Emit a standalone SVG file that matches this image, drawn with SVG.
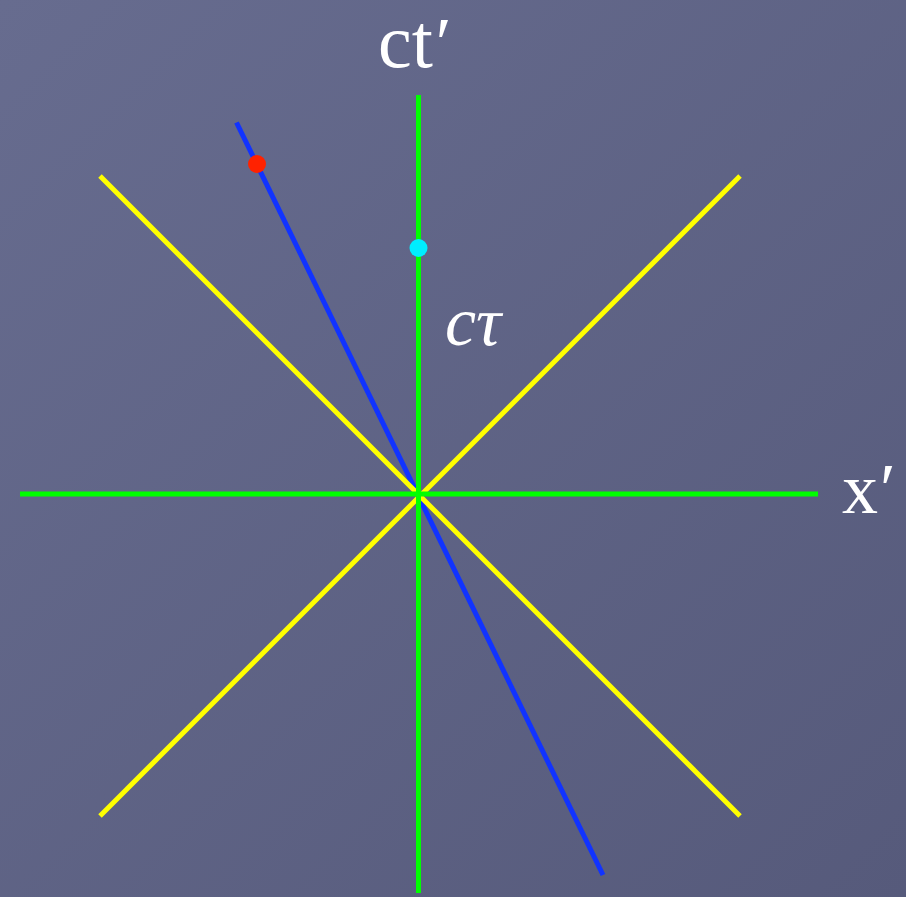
<svg xmlns="http://www.w3.org/2000/svg" width="906" height="897" viewBox="0 0 906 897">
<defs>
<linearGradient id="bg" x1="0" y1="0" x2="1" y2="1">
<stop offset="0" stop-color="#676c8f"/>
<stop offset="1" stop-color="#565a7b"/>
</linearGradient>
<style>
.ln{stroke-width:5;stroke-linecap:butt;fill:none}
.lbl{font-family:"Liberation Serif","DejaVu Serif",serif;fill:#ffffff}
</style>
</defs>
<rect width="906" height="897" fill="url(#bg)"/>
<g id="connectors">
<line id="worldline" class="ln" x1="236.5" y1="122.5" x2="603" y2="875" stroke="#1133ff"/>
<line id="lightcone1" class="ln" x1="100" y1="176" x2="740" y2="816" stroke="#ffff00"/>
<line id="lightcone2" class="ln" x1="740" y1="176" x2="100" y2="816" stroke="#ffff00"/>
<line id="axis-x" class="ln" x1="20" y1="494" x2="818" y2="494" stroke="#00ff00"/>
<line id="axis-ct" class="ln" x1="418.5" y1="95" x2="418.5" y2="893" stroke="#00ff00"/>
</g>
<g id="event-red"><circle cx="257" cy="164" r="9" fill="#ff2200"/></g>
<g id="event-cyan"><circle cx="418.5" cy="248" r="9" fill="#00eeff"/></g>
<g id="label-ct"><text class="lbl" x="378" y="67" font-size="76">ct<tspan dx="3" font-size="72">′</tspan></text></g>
<g id="label-x"><text class="lbl" x="842" y="513" font-size="72">x<tspan dx="2">′</tspan></text></g>
<g id="label-ctau"><text class="lbl" x="445" y="345" font-size="70" font-style="italic">cτ</text></g>
</svg>
